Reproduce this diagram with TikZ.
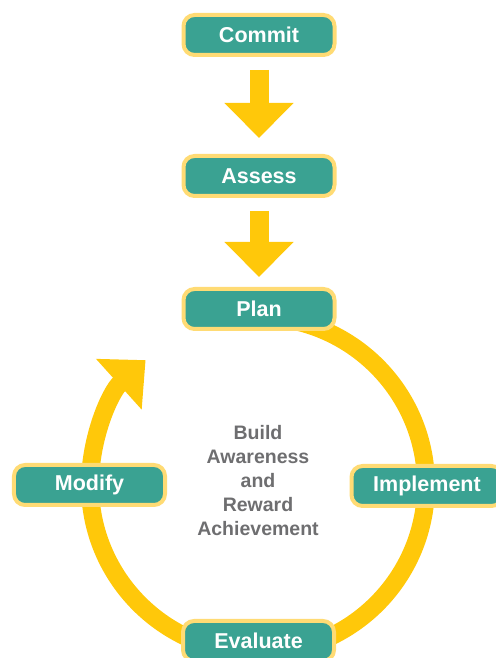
\documentclass[tikz,border=0pt]{standalone}
\usepackage{fontspec}
\setmainfont{Liberation Sans}
\usepackage{xcolor}
\usepackage{tikz}
\usetikzlibrary{arrows.meta, positioning, calc}
\definecolor{boxfill}{RGB}{58, 162, 146}
\definecolor{boxedge}{RGB}{255, 219, 116}
\definecolor{gold}{RGB}{255, 200, 10}
\definecolor{graytext}{RGB}{110, 110, 112}

\begin{document}
\begin{tikzpicture}[
    x=1bp, y=1bp,
    stage/.style={rectangle, draw=boxedge, fill=boxfill, line width=4bp, rounded corners=11bp,
                  minimum width=151bp, minimum height=40bp, text=white,
                  font=\fontsize{21.5bp}{24bp}\selectfont\bfseries},
    flow/.style={draw=gold, line width=19bp, -{Triangle[length=35bp, width=67bp]}},
    ring/.style={draw=gold, line width=18bp, -{Triangle[length=36bp, width=66bp]}}
]
\useasboundingbox (0,0) rectangle (496,658);

% Cycle
\coordinate (hub) at (258,173);
\draw[ring] (hub) ++(90:168) arc[start angle=90, end angle=-228, radius=168];

% Stages
\node[stage] (commit) at (259,623) {Commit};
\node[stage, below=97bp of commit] (assess) {Assess};
\node[stage, below=89bp of assess] (plan) {Plan};
\node[stage] (implement) at (427,172) {Implement};
\node[stage] (evaluate) at (258.5,17) {Evaluate};
\node[stage] (modify) at (89.5,173) {Modify};

% Centre text
\node[text=graytext, align=center, font=\fontsize{19.5bp}{24bp}\selectfont\bfseries]
    (theme) at ([yshift=4bp]hub) {Build\\Awareness\\and\\Reward\\Achievement};

% Arrows
\draw[flow] ([yshift=-13bp]commit.south) -- ([yshift=16bp]assess.north);
\draw[flow] ([yshift=-13bp]assess.south) -- ([yshift=10bp]plan.north);

\end{tikzpicture}
\end{document}
